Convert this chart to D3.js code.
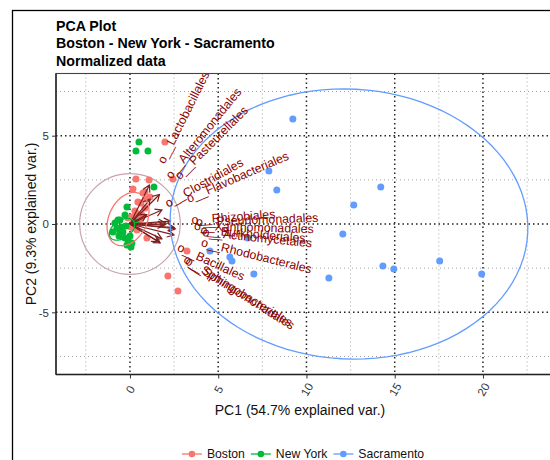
<!DOCTYPE html>
<html>
<head>
<meta charset="utf-8">
<script src="https://cdn.jsdelivr.net/npm/d3@7"></script>
<style>
  body { margin: 0; background: #fff; }
  svg { display: block; font-family: "Liberation Sans", Arial, sans-serif; }
</style>
</head>
<body>
<svg id="chart" width="550" height="460"></svg>
<script>
// ---- DATA ----
const groups = ["Boston", "New York", "Sacramento"]
const groupColors = ["#F8766D", "#00BA38", "#619CFF"]

// sample scores (PC1 / PC2)
const bostonPC1 = [1.98, 0.34, 1.08, 2.43, 0.17, 0.74, 0.91, 0.45, 0.28, 0.85, 0.11, 0.57, 0.06, 0.40, 0.96, 0.68, 0.45, 0.17, 0.85, 0.62, 1.13, 3.23, 2.15, 2.72, -0.11, 0.34]
const bostonPC2 = [4.64, 2.55, 2.49, 2.55, 1.98, 1.76, 1.42, 1.25, 0.74, 0.91, 0.40, 0.23, -0.17, -0.34, -0.79, 0.51, 0.06, -0.23, 1.81, 1.19, 1.53, -1.53, -2.94, -3.79, 0.34, 0.62]
const newYorkPC1 = [0.51, 0.34, 1.02, 1.36, -0.17, 0.34, -0.28, -0.68, -0.85, -0.45, -0.57, -0.28, -0.11, 0.11, -0.74, -0.96, -0.57, -0.40, 0.00, -0.17, -0.23, -0.62, 0.06]
const newYorkPC2 = [4.64, 4.13, 4.13, 2.10, 0.96, 0.11, 0.51, 0.23, 0.06, -0.17, -0.45, -0.79, -0.91, -1.08, -0.23, -0.45, 0.23, -0.45, -0.68, -1.19, -0.11, -0.68, -1.30]
const sacramentoPC1 = [9.23, 7.87, 8.32, 14.21, 12.68, 12.06, 6.68, 4.53, 5.66, 5.78, 7.02, 11.27, 14.33, 14.95, 17.55, 19.93]
const sacramentoPC2 = [5.95, 3.00, 1.93, 2.10, 1.08, -0.57, -0.79, -1.53, -1.87, -2.10, -2.83, -3.06, -2.38, -2.55, -2.10, -2.83]

// variable loadings (arrow tips)
const varNames = ["o__Lactobacillales", "o__Alteromonadales", "o__Pasteurellales", "o__Clostridiales", "o__Flavobacteriales",
  "o__Rhizobiales", "o__Pseudomonadales", "o__Xanthomonadales", "o__Burkholderiales", "o__Actinomycetales",
  "o__Rhodobacterales", "o__Bacillales", "o__Sphingobacteriales", "o__Sphingomonadales"]
const varPC1 = [1.10, 1.14, 1.67, 0.95, 1.81, 2.29, 2.01, 1.94, 2.51, 2.57, 2.49, 1.81, 1.61, 1.71]
const varPC2 = [2.20, 1.41, 1.67, 0.53, 0.79, 0.16, 0.07, -0.05, -0.20, -0.27, -0.62, -0.84, -0.99, -1.07]

// 68% group ellipses: centre, semi axes, tilt (degrees)
const ellCx = [-0.11, -0.45, 12.41]
const ellCy = [0.28, -0.30, 0.00]
const ellA = [1.59, 0.80, 10.14]
const ellB = [1.08, 0.50, 7.64]
const ellTilt = [65, 35, -3]

const circleR = 2.85

const xTicks = [0, 5, 10, 15, 20]
const yTicks = [-5, 0, 5]
const xMinor = [-2.5, 2.5, 7.5, 12.5, 17.5, 22.5]
const yMinor = [-7.5, -2.5, 2.5, 7.5]

const titleLines = ["PCA Plot", "Boston - New York - Sacramento", "Normalized data"]
const xTitle = "PC1 (54.7% explained var.)"
const yTitle = "PC2 (9.3% explained var.)"

// ---- LAYOUT ----
const svg = d3.select("#chart")
const panel = { left: 56, top: 73.5, bottom: 374.5, right: 564 }

const xScale = d3.scaleLinear().domain([-4.19, 24.6]).range([panel.left, panel.left + 28.79 * 17.65])
const yScale = d3.scaleLinear().domain([-8.52, 8.52]).range([panel.bottom, panel.top])

const tickFmt = d => String(d) // plain hyphen minus like R

// outer frame of the exported figure
svg.append("rect")
  .attr("x", 12.5).attr("y", 10.5)
  .attr("width", 620).attr("height", 520)
  .attr("fill", "none").attr("stroke", "#000").attr("stroke-width", 1.3)

// titles
svg.selectAll(".title")
  .data(titleLines)
  .join("text")
  .attr("class", "title")
  .attr("x", 56)
  .attr("y", (d, i) => 31 + i * 17.3)
  .attr("font-size", 14.2)
  .attr("font-weight", "bold")
  .attr("fill", "#000")
  .text(d => d)

svg.append("clipPath").attr("id", "clip")
  .append("rect")
  .attr("x", panel.left).attr("y", panel.top)
  .attr("width", panel.right - panel.left).attr("height", panel.bottom - panel.top)

const plot = svg.append("g").attr("clip-path", "url(#clip)")

// grid - minor
plot.selectAll(".vminor").data(xMinor).join("line")
  .attr("x1", d => xScale(d)).attr("x2", d => xScale(d))
  .attr("y1", panel.top).attr("y2", panel.bottom)
  .attr("stroke", "#9a9a9a").attr("stroke-width", 0.9).attr("stroke-dasharray", "1,3")
plot.selectAll(".hminor").data(yMinor).join("line")
  .attr("y1", d => yScale(d)).attr("y2", d => yScale(d))
  .attr("x1", panel.left).attr("x2", panel.right)
  .attr("stroke", "#9a9a9a").attr("stroke-width", 0.9).attr("stroke-dasharray", "1,3")
// grid - major
plot.selectAll(".vmajor").data(xTicks).join("line")
  .attr("x1", d => xScale(d)).attr("x2", d => xScale(d))
  .attr("y1", panel.top).attr("y2", panel.bottom)
  .attr("stroke", "#222").attr("stroke-width", 1.5).attr("stroke-dasharray", "1.5,3")
plot.selectAll(".hmajor").data(yTicks).join("line")
  .attr("y1", d => yScale(d)).attr("y2", d => yScale(d))
  .attr("x1", panel.left).attr("x2", panel.right)
  .attr("stroke", "#222").attr("stroke-width", 1.5).attr("stroke-dasharray", "1.5,3")

// correlation circle
const kx = xScale(1) - xScale(0)
plot.append("circle")
  .attr("cx", xScale(0)).attr("cy", yScale(0))
  .attr("r", circleR * kx)
  .attr("fill", "none").attr("stroke", "#c9a3aa").attr("stroke-width", 1.2)

// points
const groupX = [bostonPC1, newYorkPC1, sacramentoPC1]
const groupY = [bostonPC2, newYorkPC2, sacramentoPC2]
groups.forEach((g, gi) => {
  const pts = groupX[gi].map((v, i) => [v, groupY[gi][i]])
  plot.append("g").selectAll("circle")
    .data(pts)
    .join("circle")
    .attr("cx", d => xScale(d[0]))
    .attr("cy", d => yScale(d[1]))
    .attr("r", 3.5)
    .attr("fill", groupColors[gi])
})

// arrows
const arrowCol = "#7e1f1f"
const vars = varNames.map((n, i) => ({ name: n, x: varPC1[i], y: varPC2[i] }))
const arrows = plot.append("g")
vars.forEach(v => {
  const x0 = xScale(0), y0 = yScale(0), x1 = xScale(v.x), y1 = yScale(v.y)
  const phi = Math.atan2(y1 - y0, x1 - x0)
  const L = 7.5, a = Math.PI / 6
  arrows.append("line")
    .attr("x1", x0).attr("y1", y0).attr("x2", x1).attr("y2", y1)
    .attr("stroke", arrowCol).attr("stroke-width", 1.2)
  arrows.append("path")
    .attr("d", `M${x1 - L * Math.cos(phi - a)},${y1 - L * Math.sin(phi - a)}L${x1},${y1}L${x1 - L * Math.cos(phi + a)},${y1 - L * Math.sin(phi + a)}`)
    .attr("fill", "none").attr("stroke", arrowCol).attr("stroke-width", 1.2)
})

// ellipses
const ellLine = d3.line().x(d => xScale(d[0])).y(d => yScale(d[1]))
groups.forEach((g, gi) => {
  const t = ellTilt[gi] * Math.PI / 180
  const pts = d3.range(0, 101).map(k => {
    const th = k / 100 * 2 * Math.PI
    const ex = ellA[gi] * Math.cos(th), ey = ellB[gi] * Math.sin(th)
    return [ellCx[gi] + ex * Math.cos(t) - ey * Math.sin(t), ellCy[gi] + ex * Math.sin(t) + ey * Math.cos(t)]
  })
  plot.append("path")
    .attr("d", ellLine(pts))
    .attr("fill", "none")
    .attr("stroke", groupColors[gi])
    .attr("stroke-width", 1.3)
})

// variable labels (hjust = -0.25 as in ggbiplot)
vars.forEach(v => {
  const ang = Math.atan2(v.y, v.x) * 180 / Math.PI
  const t = plot.append("text")
    .attr("transform", `translate(${xScale(v.x)},${yScale(v.y)}) rotate(${-ang})`)
    .attr("dy", "0.35em")
    .attr("font-size", 12.3)
    .attr("fill", "#8B0000")
    .text(v.name)
  const w = t.node().getComputedTextLength()
  t.attr("x", 0.25 * w)
})

// panel border
svg.append("rect")
  .attr("x", panel.left).attr("y", panel.top)
  .attr("width", panel.right - panel.left).attr("height", panel.bottom - panel.top)
  .attr("fill", "none").attr("stroke", "#444").attr("stroke-width", 1.1)
svg.append("line")
  .attr("x1", panel.left).attr("x2", panel.right)
  .attr("y1", panel.bottom).attr("y2", panel.bottom)
  .attr("stroke", "#222").attr("stroke-width", 1.4)
svg.append("line")
  .attr("x1", panel.left).attr("x2", panel.left)
  .attr("y1", panel.top).attr("y2", panel.bottom)
  .attr("stroke", "#222").attr("stroke-width", 1.4)

// axes
const xAxis = svg.append("g")
  .attr("transform", `translate(0,${panel.bottom})`)
  .call(d3.axisBottom(xScale).tickValues(xTicks).tickSize(4).tickFormat(tickFmt))
xAxis.select(".domain").remove()
xAxis.selectAll(".tick line").attr("stroke", "#333")
xAxis.selectAll(".tick text")
  .attr("y", 0).attr("dy", "0.35em")
  .attr("transform", "translate(0,15) rotate(-60)")
  .attr("text-anchor", "middle")
  .attr("font-size", 11.5)
  .attr("font-family", "Liberation Sans, Arial, sans-serif")
  .attr("fill", "#333")

const yAxis = svg.append("g")
  .attr("transform", `translate(${panel.left},0)`)
  .call(d3.axisLeft(yScale).tickValues(yTicks).tickSize(4).tickPadding(3).tickFormat(tickFmt))
yAxis.select(".domain").remove()
yAxis.selectAll(".tick line").attr("stroke", "#333")
yAxis.selectAll(".tick text")
  .attr("font-size", 11.5)
  .attr("font-family", "Liberation Sans, Arial, sans-serif")
  .attr("fill", "#333")

// axis titles
svg.append("text")
  .attr("x", 300).attr("y", 414.5)
  .attr("text-anchor", "middle")
  .attr("font-size", 14)
  .attr("fill", "#111")
  .text(xTitle)
svg.append("text")
  .attr("transform", "translate(36,224) rotate(-90)")
  .attr("text-anchor", "middle")
  .attr("font-size", 14)
  .attr("fill", "#111")
  .text(yTitle)

// legend
const legend = svg.append("g")
const keyW = 20, gapKT = 5, gapItem = 6, legY = 454
const items = groups.map((g, i) => {
  const t = legend.append("text").attr("font-size", 12.2).attr("fill", "#111").text(g)
  return { t, w: t.node().getComputedTextLength(), col: groupColors[i] }
})
const totalW = d3.sum(items, d => keyW + gapKT + d.w) + gapItem * (items.length - 1)
let lx = 303 - totalW / 2
items.forEach(it => {
  legend.append("line")
    .attr("x1", lx).attr("x2", lx + keyW).attr("y1", legY).attr("y2", legY)
    .attr("stroke", it.col).attr("stroke-width", 1.3)
  legend.append("circle")
    .attr("cx", lx + keyW / 2).attr("cy", legY).attr("r", 3.3).attr("fill", it.col)
  it.t.attr("x", lx + keyW + gapKT).attr("y", legY).attr("dy", "0.36em")
  lx += keyW + gapKT + it.w + gapItem
})
</script>
</body>
</html>
